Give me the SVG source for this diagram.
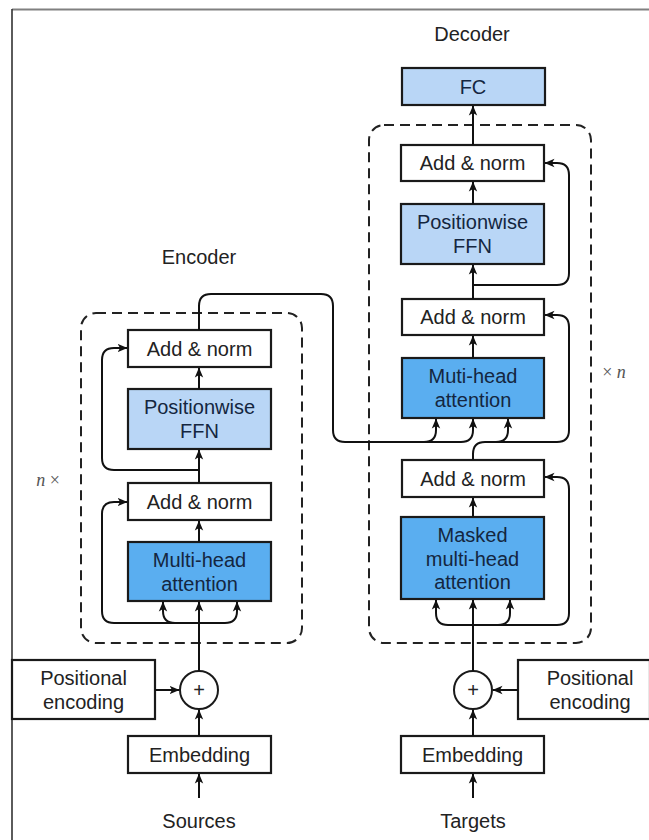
<svg xmlns="http://www.w3.org/2000/svg" width="649" height="840" viewBox="0 0 649 840">
<defs>
<marker id="ah" viewBox="0 0 10 10" refX="9.5" refY="5" markerWidth="10" markerHeight="10" markerUnits="userSpaceOnUse" orient="auto">
<path d="M0,0.8 L10,5 L0,9.2 L2.6,5 z" fill="#111"/>
</marker>
<style>
.box{stroke:#1a1a1a;stroke-width:2.2}
.w{fill:#ffffff}
.lb{fill:#b9d6f6}
.db{fill:#5aaef0}
.t{font-family:"Liberation Sans",Arial,sans-serif;font-size:20px;text-anchor:middle;fill:#222}
.tb{fill:#142640}
.dash{fill:none;stroke:#222;stroke-width:2;stroke-dasharray:10 6}
.c{fill:none;stroke:#111;stroke-width:2;marker-end:url(#ah)}
.cn{fill:none;stroke:#111;stroke-width:2}
.m{font-family:"Liberation Serif","Times New Roman",serif;font-size:18px;fill:#555;text-anchor:middle}
</style>
</defs>
<rect width="649" height="840" fill="#ffffff"/>
<line x1="12" y1="9.5" x2="649" y2="9.5" stroke="#808080" stroke-width="2"/>
<line x1="12" y1="9" x2="12" y2="840" stroke="#333" stroke-width="1.6"/>

<g id="labels">
<text class="t" x="472" y="41">Decoder</text>
<text class="t" x="199" y="264">Encoder</text>
<text class="t" x="199" y="828">Sources</text>
<text class="t" x="473" y="828">Targets</text>
<text class="m" x="48" y="486"><tspan font-style="italic">n</tspan> ×</text>
<text class="m" x="614" y="378">× <tspan font-style="italic">n</tspan></text>
</g>

<g id="encoder-block"><rect class="dash" x="81" y="313" width="221" height="330" rx="15"/></g>
<g id="decoder-block"><rect class="dash" x="369" y="125" width="222" height="518" rx="15"/></g>

<g id="enc-add2"><rect class="box w" x="128" y="330" width="143" height="37"/><text class="t" x="199.5" y="355.5">Add &amp; norm</text></g>
<g id="enc-ffn"><rect class="box lb" x="128" y="389" width="143" height="60"/><text class="t tb" x="199.5" y="414">Positionwise</text><text class="t tb" x="199.5" y="438">FFN</text></g>
<g id="enc-add1"><rect class="box w" x="128" y="483" width="143" height="37"/><text class="t" x="199.5" y="508.5">Add &amp; norm</text></g>
<g id="enc-mha"><rect class="box db" x="128" y="542" width="143" height="59"/><text class="t tb" x="199.5" y="567">Multi-head</text><text class="t tb" x="199.5" y="591">attention</text></g>
<g id="enc-plus"><circle cx="199" cy="690" r="19" fill="#fff" stroke="#1a1a1a" stroke-width="2"/><text class="t" x="199" y="697" font-size="18">+</text></g>
<g id="enc-pos"><rect class="box w" x="12" y="660" width="143" height="59"/><text class="t" x="83.5" y="685">Positional</text><text class="t" x="83.5" y="709">encoding</text></g>
<g id="enc-emb"><rect class="box w" x="128" y="736" width="143" height="37"/><text class="t" x="199.5" y="761.5">Embedding</text></g>

<g id="dec-fc"><rect class="box lb" x="402" y="68" width="143" height="37"/><text class="t tb" x="473" y="93.5">FC</text></g>
<g id="dec-add3"><rect class="box w" x="401" y="145" width="143" height="36"/><text class="t" x="472.5" y="170">Add &amp; norm</text></g>
<g id="dec-ffn"><rect class="box lb" x="401" y="204" width="143" height="60"/><text class="t tb" x="472.5" y="229">Positionwise</text><text class="t tb" x="472.5" y="253">FFN</text></g>
<g id="dec-add2"><rect class="box w" x="402" y="299" width="142" height="36"/><text class="t" x="473" y="324">Add &amp; norm</text></g>
<g id="dec-mha"><rect class="box db" x="402" y="358" width="142" height="60"/><text class="t tb" x="473" y="383">Muti-head</text><text class="t tb" x="473" y="407">attention</text></g>
<g id="dec-add1"><rect class="box w" x="402" y="460" width="142" height="37"/><text class="t" x="473" y="485.5">Add &amp; norm</text></g>
<g id="dec-mmha"><rect class="box db" x="401" y="517" width="143" height="82"/><text class="t tb" x="472.5" y="542">Masked</text><text class="t tb" x="472.5" y="565.5">multi-head</text><text class="t tb" x="472.5" y="589">attention</text></g>
<g id="dec-plus"><circle cx="473" cy="690" r="19" fill="#fff" stroke="#1a1a1a" stroke-width="2"/><text class="t" x="473" y="697" font-size="18">+</text></g>
<g id="dec-pos"><rect class="box w" x="518" y="660" width="132" height="59"/><text class="t" x="590" y="685">Positional</text><text class="t" x="590" y="709">encoding</text></g>
<g id="dec-emb"><rect class="box w" x="401" y="736" width="143" height="37"/><text class="t" x="472.5" y="761.5">Embedding</text></g>

<g id="connectors">
<path class="c" d="M199,798 V774"/>
<path class="c" d="M199,736 V710"/>
<path class="c" d="M155,690 H179"/>
<path class="c" d="M199,671 V602"/>
<path class="c" d="M199,623 H175 Q163,623 163,611 V602"/>
<path class="c" d="M199,623 H225 Q237,623 237,611 V602"/>
<path class="c" d="M175,623 H114 Q102,623 102,611 V514 Q102,502 114,502 H127"/>
<path class="c" d="M199,542 V521"/>
<path class="c" d="M199,483 V450"/>
<path class="c" d="M199,470 H114 Q102,470 102,458 V360 Q102,348 114,348 H127"/>
<path class="c" d="M199,389 V368"/>
<path class="c" d="M199,330 V306 Q199,294 211,294 H321 Q333,294 333,306 V430 Q333,442 345,442 H424 Q436,442 436,430 V419"/>
<path class="c" d="M424,442 H461 Q473,442 473,430 V419"/>

<path class="c" d="M473,798 V774"/>
<path class="c" d="M473,736 V710"/>
<path class="c" d="M518,690 H493"/>
<path class="c" d="M473,671 V600"/>
<path class="c" d="M473,625 H448 Q436,625 436,613 V600"/>
<path class="c" d="M473,625 H498 Q510,625 510,613 V600"/>
<path class="c" d="M498,625 H557 Q569,625 569,613 V489 Q569,477 557,477 H545"/>
<path class="c" d="M473,517 V498"/>
<path class="c" d="M473,460 V454 Q473,442 485,442 H557 Q569,442 569,430 V327 Q569,315 557,315 H545"/>
<path class="c" d="M485,442 H496 Q508,442 508,430 V419"/>
<path class="c" d="M473,358 V336"/>
<path class="c" d="M473,299 V265"/>
<path class="c" d="M473,285 H557 Q569,285 569,273 V175 Q569,163 557,163 H545"/>
<path class="c" d="M473,204 V182"/>
<path class="c" d="M473,145 V106"/>
</g>
</svg>
